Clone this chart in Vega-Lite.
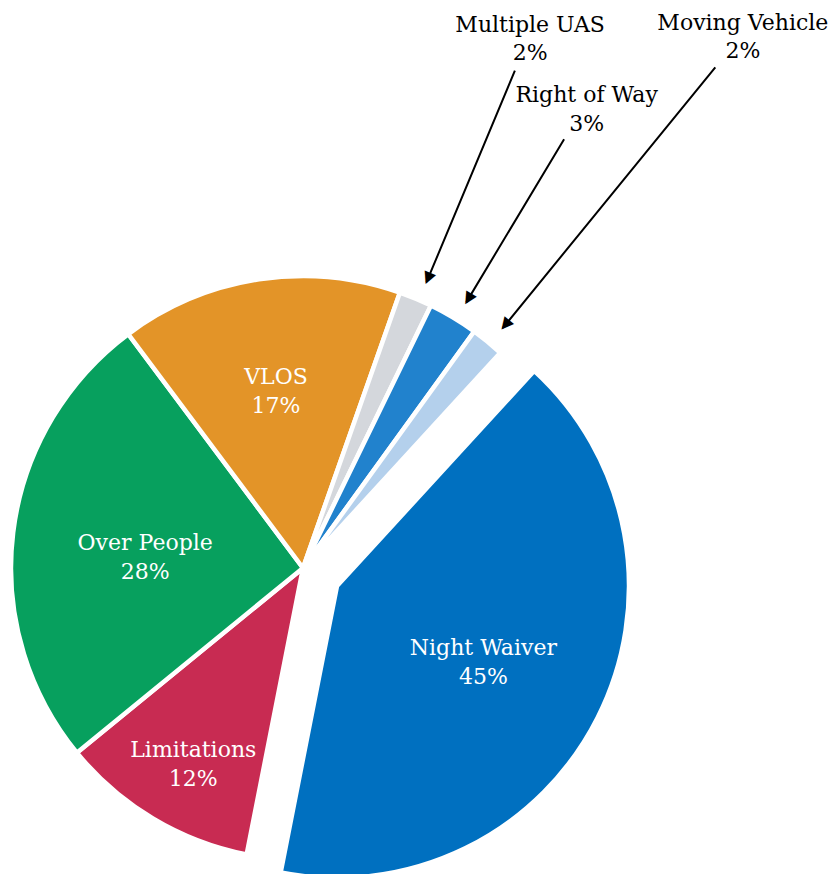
{
  "$schema": "https://vega.github.io/schema/vega-lite/v6.json",
  "autosize": "none",
  "padding": {"left": 11, "top": 276, "right": 238, "bottom": 14},
  "width": 584,
  "height": 584,
  "background": "white",
  "config": {"view": {"stroke": null}, "text": {"font": "DejaVu Serif"}},
  "data": {
    "values": [
      {"category": "Night Waiver", "pct": 45},
      {"category": "Limitations", "pct": 12},
      {"category": "Over People", "pct": 28},
      {"category": "VLOS", "pct": 17},
      {"category": "Multiple UAS", "pct": 2},
      {"category": "Right of Way", "pct": 3},
      {"category": "Moving Vehicle", "pct": 2}
    ]
  },
  "transform": [
    {"window": [{"op": "row_number", "as": "idx"}]},
    {"stack": "pct", "groupby": [], "sort": [{"field": "idx", "order": "ascending"}], "as": ["p0", "p1"]},
    {"calculate": "(datum.p0 + datum.p1) / 2", "as": "pmid"},
    {"calculate": "datum.category + '\\n' + datum.pct + '%'", "as": "label"}
  ],
  "layer": [
    {
      "transform": [{"filter": "datum.category !== 'Night Waiver'"}],
      "mark": {"type": "arc", "stroke": "white", "strokeWidth": 4.5},
      "encoding": {
        "theta": {"field": "p0", "type": "quantitative", "scale": {"domain": [0, 109], "range": [0.7418, 7.025]}},
        "theta2": {"field": "p1"},
        "color": {
          "field": "category", "type": "nominal", "legend": null,
          "scale": {
            "domain": ["Night Waiver", "Limitations", "Over People", "VLOS", "Multiple UAS", "Right of Way", "Moving Vehicle"],
            "range": ["#0070C0", "#C82B52", "#07A05E", "#E39428", "#D4D7DC", "#2182CD", "#B4D0EC"]
          }
        }
      }
    },
    {
      "transform": [{"filter": "datum.category === 'Night Waiver'"}],
      "mark": {"type": "arc", "stroke": "white", "strokeWidth": 4.5, "xOffset": 34, "yOffset": 18},
      "encoding": {
        "theta": {"field": "p0", "type": "quantitative", "scale": {"domain": [0, 109], "range": [0.7418, 7.025]}},
        "theta2": {"field": "p1"},
        "color": {"field": "category", "type": "nominal", "legend": null}
      }
    },
    {
      "transform": [{"filter": "datum.category === 'VLOS'"}],
      "mark": {"type": "text", "radius": 179, "fontSize": 22, "lineHeight": 29, "lineBreak": "\n", "color": "white", "align": "center", "baseline": "middle", "dy": -14.5},
      "encoding": {
        "theta": {"field": "pmid", "type": "quantitative", "stack": false, "scale": {"domain": [0, 109], "range": [0.7418, 7.025]}},
        "text": {"field": "label"}
      }
    },
    {
      "transform": [{"filter": "datum.category === 'Over People'"}],
      "mark": {"type": "text", "radius": 159, "fontSize": 22, "lineHeight": 29, "lineBreak": "\n", "color": "white", "align": "center", "baseline": "middle", "dy": -6},
      "encoding": {
        "theta": {"field": "pmid", "type": "quantitative", "stack": false, "scale": {"domain": [0, 109], "range": [0.7418, 7.025]}},
        "text": {"field": "label"}
      }
    },
    {
      "transform": [{"filter": "datum.category === 'Limitations'"}],
      "mark": {"type": "text", "radius": 225, "fontSize": 22, "lineHeight": 29, "lineBreak": "\n", "color": "white", "align": "center", "baseline": "middle", "dx": 6, "dy": -10.5},
      "encoding": {
        "theta": {"field": "pmid", "type": "quantitative", "stack": false, "scale": {"domain": [0, 109], "range": [0.7418, 7.025]}},
        "text": {"field": "label"}
      }
    },
    {
      "transform": [{"filter": "datum.category === 'Night Waiver'"}],
      "mark": {"type": "text", "radius": 164, "fontSize": 22, "lineHeight": 29, "lineBreak": "\n", "color": "white", "align": "center", "baseline": "middle", "xOffset": 34, "yOffset": 18, "dy": -12},
      "encoding": {
        "theta": {"field": "pmid", "type": "quantitative", "stack": false, "scale": {"domain": [0, 109], "range": [0.7418, 7.025]}},
        "text": {"field": "label"}
      }
    },
    {
      "transform": [{"filter": "datum.pct <= 3"}],
      "mark": {"type": "text", "text": "▲", "font": "DejaVu Sans", "fontSize": 16, "radius": 313, "color": "black", "align": "center", "baseline": "middle", "xOffset": 4},
      "encoding": {
        "theta": {"field": "pmid", "type": "quantitative", "stack": false, "scale": {"domain": [0, 109], "range": [0.7418, 7.025]}},
        "angle": {"field": "pmid", "type": "quantitative", "scale": {"domain": [0, 109], "range": [222.5, 582.5]}}
      }
    },
    {
      "transform": [{"filter": "datum.category === 'Multiple UAS'"}],
      "layer": [
        {
          "mark": {"type": "arc", "radius": 539, "radius2": 310, "filled": false, "color": "black", "strokeWidth": 2, "xOffset": 4},
          "encoding": {
            "theta": {"field": "pmid", "type": "quantitative", "scale": {"domain": [0, 109], "range": [0.7418, 7.025]}},
            "theta2": {"field": "pmid"}
          }
        },
        {
          "mark": {"type": "text", "radius": 576, "fontSize": 22, "lineHeight": 28, "lineBreak": "\n", "color": "black", "align": "center", "baseline": "middle", "dx": 5, "dy": -12},
          "encoding": {
            "theta": {"field": "pmid", "type": "quantitative", "stack": false, "scale": {"domain": [0, 109], "range": [0.7418, 7.025]}},
            "text": {"field": "label"}
          }
        }
      ]
    },
    {
      "transform": [{"filter": "datum.category === 'Right of Way'"}],
      "layer": [
        {
          "mark": {"type": "arc", "radius": 500, "radius2": 310, "filled": false, "color": "black", "strokeWidth": 2, "xOffset": 4},
          "encoding": {
            "theta": {"field": "pmid", "type": "quantitative", "scale": {"domain": [0, 109], "range": [0.7418, 7.025]}},
            "theta2": {"field": "pmid"}
          }
        },
        {
          "mark": {"type": "text", "radius": 540, "fontSize": 22, "lineHeight": 29, "lineBreak": "\n", "color": "black", "align": "center", "baseline": "middle", "dx": 6, "dy": -10},
          "encoding": {
            "theta": {"field": "pmid", "type": "quantitative", "stack": false, "scale": {"domain": [0, 109], "range": [0.7418, 7.025]}},
            "text": {"field": "label"}
          }
        }
      ]
    },
    {
      "transform": [{"filter": "datum.category === 'Moving Vehicle'"}],
      "layer": [
        {
          "mark": {"type": "arc", "radius": 646, "radius2": 310, "filled": false, "color": "black", "strokeWidth": 2, "xOffset": 4},
          "encoding": {
            "theta": {"field": "pmid", "type": "quantitative", "scale": {"domain": [0, 109], "range": [0.7418, 7.025]}},
            "theta2": {"field": "pmid"}
          }
        },
        {
          "mark": {"type": "text", "radius": 688, "fontSize": 22, "lineHeight": 28, "lineBreak": "\n", "color": "black", "align": "center", "baseline": "middle", "dx": 5, "dy": -12},
          "encoding": {
            "theta": {"field": "pmid", "type": "quantitative", "stack": false, "scale": {"domain": [0, 109], "range": [0.7418, 7.025]}},
            "text": {"field": "label"}
          }
        }
      ]
    }
  ]
}
